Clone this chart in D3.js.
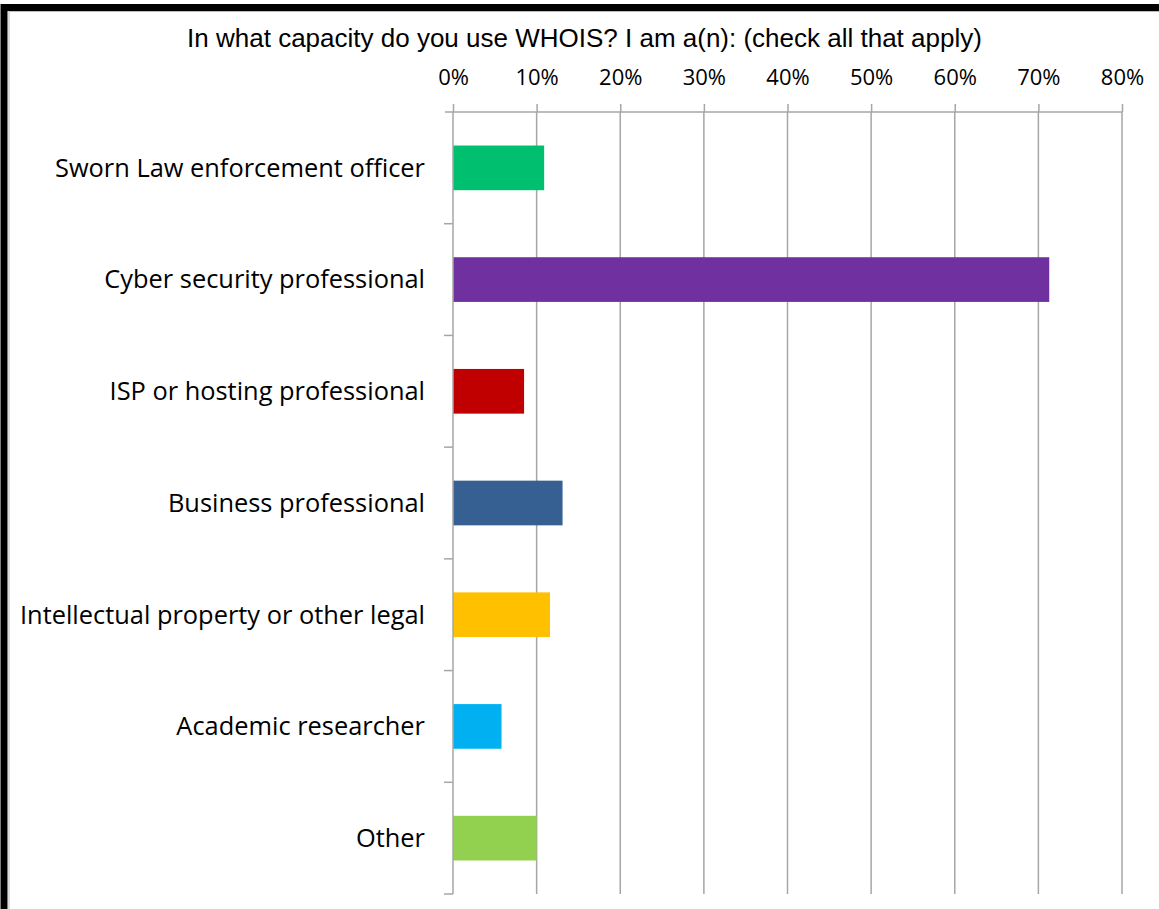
<!DOCTYPE html>
<html><head><meta charset="utf-8">
<script src="https://cdn.jsdelivr.net/npm/d3@7"></script>
<style>body{margin:0;background:#fff;} svg{display:block;}</style>
</head><body>
<svg id="c" width="1159" height="909"></svg>
<script>
const categories = ["Sworn Law enforcement officer","Cyber security professional","ISP or hosting professional","Business professional","Intellectual property or other legal","Academic researcher","Other"];
const values = [0.109, 0.713, 0.085, 0.131, 0.116, 0.058, 0.100];
const colors = ["#00BF6F","#7030A0","#C00000","#366092","#FFC000","#00B0F0","#92D050"];
const tickValues = [0,0.1,0.2,0.3,0.4,0.5,0.6,0.7,0.8];
const title = "In what capacity do you use WHOIS? I am a(n): (check all that apply)";

const svg = d3.select("#c");
// frame
svg.append("rect").attr("x",4).attr("y",7.5).attr("width",1300).attr("height",1100)
  .attr("fill","none").attr("stroke","#000").attr("stroke-width",7);
svg.append("rect").attr("x",9).attr("y",11.5).attr("width",1300).attr("height",1100)
  .attr("fill","none").attr("stroke","#bbb").attr("stroke-width",1);

const pLeft=453, pRight=1122, pTop=112, pBottom=894;
const x = d3.scaleLinear().domain([0,0.8]).range([pLeft,pRight]);
const y = d3.scaleBand().domain(categories).range([pTop,pBottom]).paddingInner(0.6).paddingOuter(0.3);

const grid="#a6a6a6";
svg.append("g").selectAll("line").data(tickValues.slice(1)).join("line")
  .attr("x1",d=>x(d)).attr("x2",d=>x(d)).attr("y1",pTop).attr("y2",pBottom)
  .attr("stroke",grid).attr("stroke-width",1.5);

svg.append("g").selectAll("rect").data(categories).join("rect")
  .attr("x",x(0)).attr("y",d=>y(d)).attr("height",y.bandwidth())
  .attr("width",(d,i)=>x(values[i])-x(0)).attr("fill",(d,i)=>colors[i]);

const xa = svg.append("g").attr("transform",`translate(0,${pTop})`)
  .call(d3.axisTop(x).tickValues(tickValues).tickFormat(d3.format(".0%")).tickSize(8).tickSizeOuter(0).tickPadding(19));
xa.select(".domain").attr("stroke",grid).attr("stroke-width",1.5).attr("d",`M${pLeft-8},0H${pRight}`);
xa.selectAll(".tick line").attr("stroke",grid).attr("stroke-width",1.5);
xa.selectAll("text").attr("font-family","Open Sans").attr("font-size",22).attr("fill","#000");

const bounds = d3.range(categories.length+1).map(i=>pTop+(pBottom-pTop)*i/categories.length);
svg.append("line").attr("x1",pLeft).attr("x2",pLeft).attr("y1",pTop).attr("y2",pBottom).attr("stroke",grid).attr("stroke-width",1.5);
svg.append("g").selectAll("line").data(bounds.slice(1)).join("line")
  .attr("x1",pLeft-9).attr("x2",pLeft).attr("y1",d=>d).attr("y2",d=>d).attr("stroke",grid).attr("stroke-width",1.5);

svg.append("g").selectAll("text").data(categories).join("text")
  .attr("x",425).attr("y",d=>y(d)+y.bandwidth()/2).attr("dy","0.35em")
  .attr("text-anchor","end").attr("font-family","Open Sans").attr("font-size",25.4).attr("fill","#000")
  .text(d=>d);

svg.append("text").attr("x",584.5).attr("y",47).attr("text-anchor","middle")
  .attr("font-family","Liberation Sans").attr("font-size",26).attr("fill","#000").text(title);
</script>
</body></html>
